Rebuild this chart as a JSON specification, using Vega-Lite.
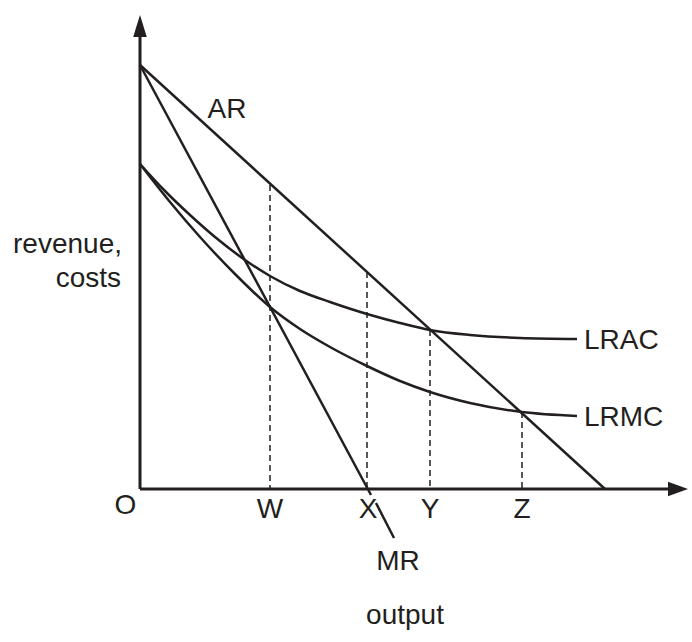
{
  "$schema": "https://vega.github.io/schema/vega-lite/v6.json",
  "width": 692,
  "height": 642,
  "autosize": {"type": "fit", "contains": "padding"},
  "padding": 0,
  "background": "white",
  "config": {"view": {"stroke": null}},
  "datasets": {
    "axes": [
      {"seg": "yaxis", "x": 0, "y": 0},
      {"seg": "yaxis", "x": 0, "y": 454},
      {"seg": "xaxis", "x": 0, "y": 0},
      {"seg": "xaxis", "x": 530, "y": 0}
    ],
    "arrowUp": [{"x": 0, "y": 463}],
    "arrowRight": [{"x": 538, "y": 0}],
    "straight": [
      {"seg": "AR", "x": 0, "y": 424},
      {"seg": "AR", "x": 465, "y": 0},
      {"seg": "MR1", "x": 0, "y": 424},
      {"seg": "MR1", "x": 231, "y": -6},
      {"seg": "MR2", "x": 236, "y": -14},
      {"seg": "MR2", "x": 254, "y": -49}
    ],
    "curves": [
      {"seg": "LRAC", "x": 0, "y": 325},
      {"seg": "LRAC", "x": 25, "y": 298},
      {"seg": "LRAC", "x": 50, "y": 274},
      {"seg": "LRAC", "x": 75, "y": 252},
      {"seg": "LRAC", "x": 105, "y": 229},
      {"seg": "LRAC", "x": 130, "y": 213},
      {"seg": "LRAC", "x": 160, "y": 198},
      {"seg": "LRAC", "x": 190, "y": 187},
      {"seg": "LRAC", "x": 227, "y": 175},
      {"seg": "LRAC", "x": 260, "y": 166},
      {"seg": "LRAC", "x": 290, "y": 159},
      {"seg": "LRAC", "x": 330, "y": 154},
      {"seg": "LRAC", "x": 380, "y": 151},
      {"seg": "LRAC", "x": 437, "y": 150},
      {"seg": "LRMC", "x": 0, "y": 325},
      {"seg": "LRMC", "x": 30, "y": 287},
      {"seg": "LRMC", "x": 60, "y": 252},
      {"seg": "LRMC", "x": 95, "y": 215},
      {"seg": "LRMC", "x": 130, "y": 182},
      {"seg": "LRMC", "x": 160, "y": 160},
      {"seg": "LRMC", "x": 190, "y": 142},
      {"seg": "LRMC", "x": 227, "y": 123},
      {"seg": "LRMC", "x": 260, "y": 108},
      {"seg": "LRMC", "x": 290, "y": 97},
      {"seg": "LRMC", "x": 330, "y": 86},
      {"seg": "LRMC", "x": 382, "y": 77},
      {"seg": "LRMC", "x": 437, "y": 73}
    ],
    "dashed": [
      {"x": 130, "y": 304, "y2": 0},
      {"x": 227, "y": 217, "y2": 0},
      {"x": 290, "y": 159, "y2": 0},
      {"x": 382, "y": 77, "y2": 0}
    ],
    "labelsCenter": [
      {"label": "AR", "x": 87, "y": 371},
      {"label": "O", "x": -14.5, "y": -25},
      {"label": "W", "x": 130, "y": -29},
      {"label": "X", "x": 228, "y": -29},
      {"label": "Y", "x": 290, "y": -29},
      {"label": "Z", "x": 382, "y": -29},
      {"label": "MR", "x": 258, "y": -81},
      {"label": "output", "x": 265, "y": -135}
    ],
    "labelsLeft": [
      {"label": "LRAC", "x": 444, "y": 140},
      {"label": "LRMC", "x": 444, "y": 63}
    ],
    "labelsRight": [
      {"label": "revenue,", "x": -18, "y": 236},
      {"label": "costs", "x": -19, "y": 202}
    ]
  },
  "encoding": {
    "x": {"field": "x", "type": "quantitative", "scale": {"domain": [-140, 552], "nice": false, "zero": false}, "axis": null},
    "y": {"field": "y", "type": "quantitative", "scale": {"domain": [-153, 489], "nice": false, "zero": false}, "axis": null}
  },
  "layer": [
    {
      "data": {"name": "dashed"},
      "mark": {"type": "rule", "color": "#231f20", "strokeWidth": 1.5, "strokeDash": [6, 4]},
      "encoding": {"y2": {"field": "y2"}}
    },
    {
      "data": {"name": "axes"},
      "mark": {"type": "line", "color": "#231f20", "strokeWidth": 3},
      "encoding": {"detail": {"field": "seg"}}
    },
    {
      "data": {"name": "arrowUp"},
      "mark": {"type": "point", "filled": true, "color": "#231f20", "opacity": 1, "size": 484, "shape": "M0,-1L0.62,1L-0.62,1Z"},
      "encoding": {}
    },
    {
      "data": {"name": "arrowRight"},
      "mark": {"type": "point", "filled": true, "color": "#231f20", "opacity": 1, "size": 400, "shape": "M1,0L-1,-0.72L-1,0.72Z"},
      "encoding": {}
    },
    {
      "data": {"name": "straight"},
      "mark": {"type": "line", "color": "#231f20", "strokeWidth": 2.5},
      "encoding": {"detail": {"field": "seg"}}
    },
    {
      "data": {"name": "curves"},
      "mark": {"type": "line", "color": "#231f20", "strokeWidth": 2.5, "interpolate": "monotone"},
      "encoding": {"detail": {"field": "seg"}}
    },
    {
      "data": {"name": "labelsCenter"},
      "mark": {"type": "text", "font": "Liberation Sans", "fontSize": 28, "color": "#231f20", "align": "center", "baseline": "alphabetic"},
      "encoding": {"text": {"field": "label"}}
    },
    {
      "data": {"name": "labelsLeft"},
      "mark": {"type": "text", "font": "Liberation Sans", "fontSize": 28, "color": "#231f20", "align": "left", "baseline": "alphabetic"},
      "encoding": {"text": {"field": "label"}}
    },
    {
      "data": {"name": "labelsRight"},
      "mark": {"type": "text", "font": "Liberation Sans", "fontSize": 28, "color": "#231f20", "align": "right", "baseline": "alphabetic"},
      "encoding": {"text": {"field": "label"}}
    }
  ]
}
